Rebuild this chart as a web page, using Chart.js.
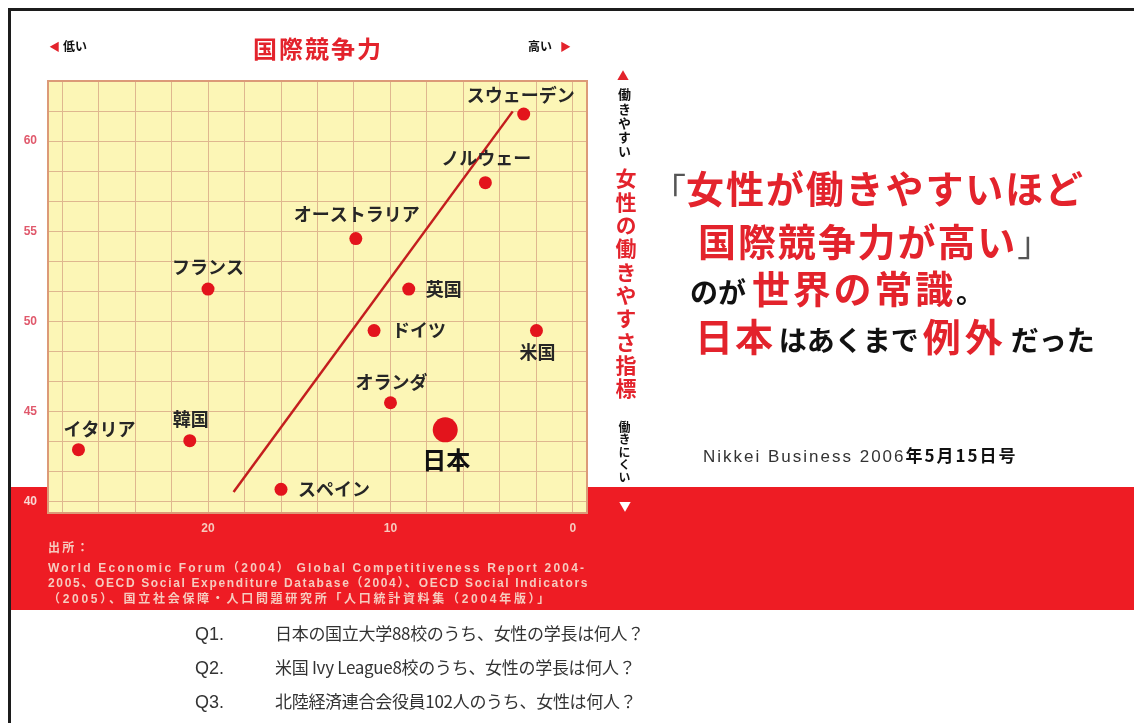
<!DOCTYPE html>
<html lang="ja">
<head>
<meta charset="utf-8">
<script src="https://cdn.jsdelivr.net/npm/chart.js@4.4.1/dist/chart.umd.min.js"></script>
<style>
  html, body { margin: 0; padding: 0; background: #fff; }
  body { width: 1134px; height: 723px; position: relative; overflow: hidden;
         font-family: "Noto Sans CJK JP", "Noto Sans", sans-serif; }
  #chart { position: absolute; left: 0; top: 0; }
  #frame { position: absolute; left: 8px; top: 8px; right: -4px; bottom: -4px;
           border-top: 3px solid #1c1c1c; border-left: 3px solid #1c1c1c; pointer-events: none; }
  .t { position: absolute; white-space: nowrap; }
  .red { color: #e3232c; }
  .blk { color: #111; }
  .vert { writing-mode: vertical-rl; font-weight: 700; }
  .src { color: #f6cbbf; font: bold 12px "Liberation Sans", "Noto Sans CJK JP", sans-serif; letter-spacing: 2.2px; }
  .q { font-size: 17px; letter-spacing: -0.3px; color: #333; line-height: 34px; }
  .q b { display: inline-block; width: 80px; font-size: 18px; letter-spacing: 0; font-weight: 400; font-family: "Liberation Sans", sans-serif; }
  .big { font-size: 38px; font-weight: 700; letter-spacing: 1.9px; }
  .mid { font-size: 28px; font-weight: 700; }
</style>
</head>
<body>
<canvas id="chart" width="1134" height="723"></canvas>

<!-- 横軸の見出し -->
<div class="t red" style="left:49px; top:38px; font-size:11px;">◀</div>
<div class="t blk" style="left:63px; top:37px; font-size:12px; font-weight:700;">低い</div>
<div class="t red" style="left:218px; top:30px; width:200px; text-align:center; font-size:24px; font-weight:700; letter-spacing:2px;">国際競争力</div>
<div class="t blk" style="left:528px; top:37px; font-size:12px; font-weight:700;">高い</div>
<div class="t red" style="left:560px; top:38px; font-size:11px;">▶</div>

<!-- 縦軸の見出し -->
<div class="t red" style="left:617px; top:67px; font-size:12px;">▲</div>
<div class="t vert blk" style="left:615px; top:88px; font-size:13px; letter-spacing:1.2px;">働きやすい</div>
<div class="t vert red" style="left:611px; top:168px; font-size:21px; letter-spacing:2.3px;">女性の働きやすさ指標</div>
<div class="t vert blk" style="left:616px; top:421px; font-size:12px; letter-spacing:0.5px;">働きにくい</div>
<div class="t" style="left:619px; top:497px; font-size:12px; color:#fff;">▼</div>

<!-- 見出しコピー -->
<div class="t" style="left:652px; top:162px; line-height:50px;">
  <span style="font-size:34px; color:#555;">「</span><span class="big red">女性が働きやすいほど</span>
</div>
<div class="t" style="left:698px; top:215px; line-height:50px;">
  <span class="big red">国際競争力が高い</span><span style="font-size:34px; color:#555;">」</span>
</div>
<div class="t" style="left:690px; top:262px; line-height:50px;">
  <span class="mid blk">のが</span><span class="big red" style="letter-spacing:2.8px; margin-left:6px;">世界の常識</span><span class="mid blk">。</span>
</div>
<div class="t" style="left:695px; top:310px; line-height:50px;">
  <span class="big red">日本</span><span class="mid blk" style="margin-left:4px;">はあくまで</span><span class="big red" style="letter-spacing:4px; margin-left:4px;">例外</span><span class="mid blk" style="margin-left:4px;">だった</span>
</div>

<div class="t" style="left:703px; top:444px; font-size:17px; color:#333; line-height:22px; letter-spacing:2px;">
  <span style="font-family:'Liberation Sans', sans-serif;">Nikkei Business 2006</span><span style="font-weight:700; color:#111;">年5月15日号</span>
</div>

<!-- 出所 -->
<div class="t src" style="left:48px; top:538px;">出所：</div>
<div class="t src" style="left:48px; top:558px; letter-spacing:2.2px;">World Economic Forum（2004） Global Competitiveness Report 2004-</div>
<div class="t src" style="left:48px; top:573px; letter-spacing:1.65px;">2005、OECD Social Expenditure Database（2004）、OECD Social Indicators</div>
<div class="t src" style="left:48px; top:589px; letter-spacing:2.7px;">（2005）、国立社会保障・人口問題研究所「人口統計資料集（2004年版）」</div>

<!-- 設問 -->
<div class="t q" style="left:195px; top:616px;"><b>Q1.</b>日本の国立大学88校のうち、女性の学長は何人？</div>
<div class="t q" style="left:195px; top:650px;"><b>Q2.</b>米国 Ivy League8校のうち、女性の学長は何人？</div>
<div class="t q" style="left:195px; top:684px;"><b>Q3.</b>北陸経済連合会役員102人のうち、女性は何人？</div>

<div id="frame"></div>

<script>
// 国際競争力の順位（横軸、右ほど高い）と女性の働きやすさ指標（縦軸）
const countries = ['スウェーデン', 'ノルウェー', 'オーストラリア', 'フランス', '英国', 'ドイツ',
                   '米国', 'オランダ', '日本', '韓国', 'イタリア', 'スペイン'];
const competitiveness = [2.7, 4.8, 11.9, 20.0, 9.0, 10.9, 2.0, 10.0, 7.0, 21.0, 27.1, 16.0];
const workIndex = [61.5, 57.7, 54.6, 51.8, 51.8, 49.5, 49.5, 45.5, 44.0, 43.4, 42.9, 40.7];

// 傾向線の両端
const trendX = [18.6, 3.3];
const trendY = [40.55, 61.65];

// 目盛り
const xLabels = [0, 10, 20];
const yLabels = [40, 45, 50, 55, 60];
const xGridStep = 2;
const yGridStep = 5 / 3;

const xGrid = [];
for (let v = 0; v <= 28; v += xGridStep) xGrid.push(v);
const yGrid = [];
for (let i = 0; i <= 14; i++) yGrid.push(40 + i * yGridStep);

// ラベルの位置（点からのずれ）
const labelPlace = {
  'スウェーデン': [-3, -19, 'center'],
  'ノルウェー': [1, -24, 'center'],
  'オーストラリア': [1, -24, 'center'],
  'フランス': [0, -22, 'center'],
  '英国': [17, 0, 'left'],
  'ドイツ': [18, 0, 'left'],
  '米国': [1, 22, 'center'],
  'オランダ': [1, -21, 'center'],
  '日本': [1, 30, 'center'],
  '韓国': [1, -21, 'center'],
  'イタリア': [21, -21, 'center'],
  'スペイン': [17, 0, 'left']
};

const backdrop = {
  id: 'backdrop',
  beforeDraw(chart) {
    const { ctx, chartArea: a } = chart;
    ctx.save();
    // 下部の赤帯
    ctx.fillStyle = '#ee1c24';
    ctx.fillRect(10, 487, chart.width - 10, 123);
    // グラフ面
    ctx.fillStyle = '#fcf6b6';
    ctx.fillRect(a.left, a.top, a.right - a.left, a.bottom - a.top);
    ctx.restore();
  },
  beforeDatasetsDraw(chart) {
    const { ctx, chartArea: a } = chart;
    ctx.save();
    ctx.strokeStyle = '#dc9a78';
    ctx.lineWidth = 2;
    ctx.strokeRect(a.left, a.top, a.right - a.left, a.bottom - a.top);
    ctx.restore();
  }
};

const pointLabels = {
  id: 'pointLabels',
  afterDatasetsDraw(chart) {
    const { ctx } = chart;
    const meta = chart.getDatasetMeta(1);
    ctx.save();
    ctx.textBaseline = 'middle';
    meta.data.forEach((pt, i) => {
      const name = countries[i];
      const [dx, dy, align] = labelPlace[name];
      const isJapan = name === '日本';
      ctx.font = isJapan ? 'bold 24px "Noto Sans CJK JP"' : 'bold 18px "Noto Sans CJK JP"';
      ctx.fillStyle = isJapan ? '#111' : '#262626';
      ctx.textAlign = align;
      ctx.fillText(name, pt.x + dx, pt.y + dy);
    });
    ctx.restore();
  }
};

const tickFont = { family: '"Liberation Sans", Arial, sans-serif', size: 12, weight: 'bold' };

new Chart(document.getElementById('chart'), {
  type: 'scatter',
  data: {
    datasets: [
      {
        data: trendX.map((x, i) => ({ x, y: trendY[i] })),
        showLine: true,
        borderColor: '#c41e1e',
        borderWidth: 2.5,
        pointRadius: 0
      },
      {
        data: countries.map((c, i) => ({ x: competitiveness[i], y: workIndex[i] })),
        backgroundColor: '#e3141c',
        borderWidth: 0,
        pointRadius: ctx => countries[ctx.dataIndex] === '日本' ? 12.5 : 6.5,
        pointHoverRadius: ctx => countries[ctx.dataIndex] === '日本' ? 12.5 : 6.5
      }
    ]
  },
  options: {
    responsive: false,
    animation: false,
    layout: { padding: { left: 8, top: 81, right: 547, bottom: 180 } },
    plugins: {
      legend: { display: false },
      tooltip: { enabled: false }
    },
    scales: {
      x: {
        type: 'linear',
        reverse: true,
        min: -0.77,
        max: 28.77,
        afterBuildTicks: axis => { axis.ticks = xGrid.map(v => ({ value: v })); },
        afterFit: axis => { axis.height = 30; },
        border: { display: false },
        grid: { color: '#dfb78f', lineWidth: 1, drawTicks: false },
        ticks: {
          autoSkip: false,
          maxRotation: 0,
          padding: 8,
          color: '#f7c9bd',
          font: tickFont,
          callback: v => xLabels.includes(v) ? v : ''
        }
      },
      y: {
        type: 'linear',
        min: 39.39,
        max: 40 + 14 * yGridStep,
        afterBuildTicks: axis => { axis.ticks = yGrid.map(v => ({ value: v })); },
        afterFit: axis => { axis.width = 40; },
        border: { display: false },
        grid: { color: '#dfb78f', lineWidth: 1, drawTicks: false },
        ticks: {
          autoSkip: false,
          padding: 11,
          font: tickFont,
          color: ctx => ctx.tick && ctx.tick.value < 41 ? '#f9d6d2' : '#e0596c',
          callback: v => {
            const hit = yLabels.find(l => Math.abs(l - v) < 1e-6);
            return hit === undefined ? '' : hit;
          }
        }
      }
    }
  },
  plugins: [backdrop, pointLabels]
});
</script>
</body>
</html>
